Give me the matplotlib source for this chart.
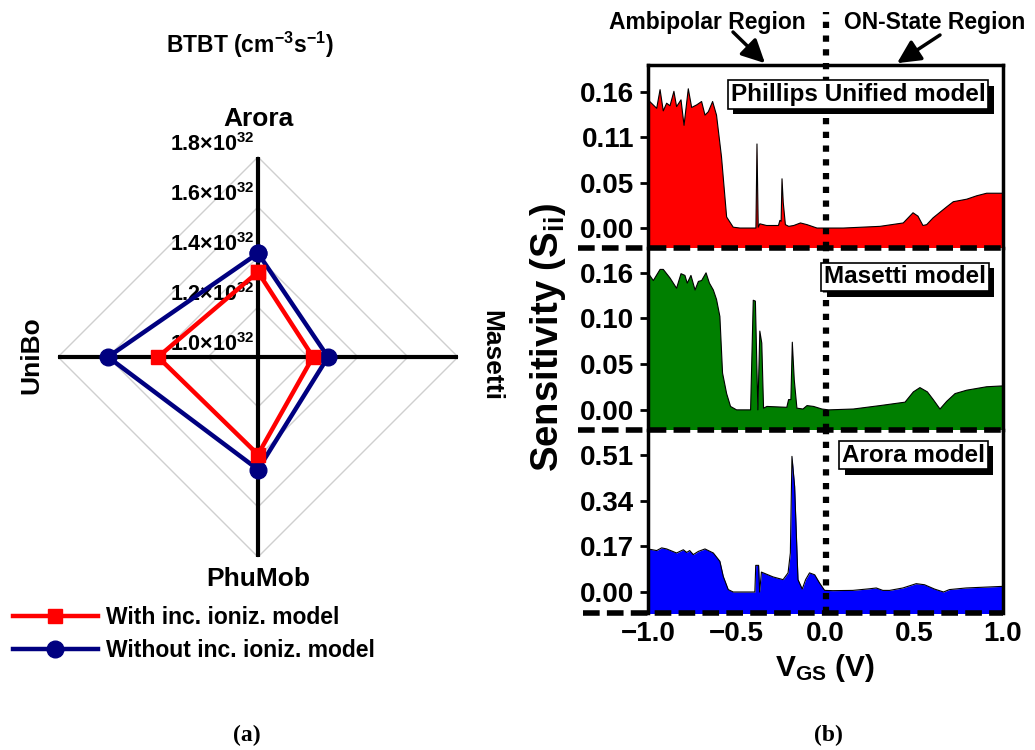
import numpy as np
import matplotlib
matplotlib.use("Agg")
import matplotlib.pyplot as plt
import matplotlib.patheffects as pe
import matplotlib.transforms as mtransforms

plt.rcParams['font.family'] = ['Liberation Sans', 'DejaVu Sans']
plt.rcParams['font.weight'] = 'bold'
plt.rcParams['mathtext.fontset'] = 'custom'
plt.rcParams['mathtext.rm'] = 'Liberation Sans:bold'
plt.rcParams['mathtext.bf'] = 'Liberation Sans:bold'
plt.rcParams['mathtext.it'] = 'Liberation Sans:bold'

# ---------------- data: radar (a) ----------------
radar_axes = ['Arora', 'Masetti', 'PhuMob', 'UniBo']
with_ii = [1.34e32, 1.22e32, 1.39e32, 1.40e32]
without_ii = [1.415e32, 1.28e32, 1.45e32, 1.60e32]
radar_ticks = [1.0e32, 1.2e32, 1.4e32, 1.6e32, 1.8e32]
radar_ticklabels = ['1.0×10$^{32}$', '1.2×10$^{32}$', '1.4×10$^{32}$',
                    '1.6×10$^{32}$', '1.8×10$^{32}$']

# ---------------- data: sensitivity (b) ----------------
x_pu = [-1.0, -0.951, -0.932, -0.914, -0.895, -0.876, -0.854, -0.839, -0.814, -0.797,
        -0.773, -0.754, -0.726, -0.698, -0.679, -0.660, -0.636, -0.614, -0.586, -0.557,
        -0.520, -0.482, -0.392, -0.386, -0.379, -0.370, -0.332, -0.300, -0.265, -0.257,
        -0.250, -0.245, -0.238, -0.226, -0.207, -0.179, -0.141, -0.104, -0.076, -0.048,
        0.100, 0.307, 0.438, 0.493, 0.521, 0.549, 0.570, 0.606, 0.683, 0.720,
        0.796, 0.852, 0.908, 1.0]
s_pu = [0.151, 0.141, 0.163, 0.138, 0.147, 0.144, 0.161, 0.143, 0.151, 0.121,
        0.164, 0.142, 0.145, 0.149, 0.133, 0.137, 0.149, 0.133, 0.084, 0.013,
        0.001, 0.0, 0.0, 0.099, 0.001, 0.005, 0.003, 0.003, 0.003, 0.009,
        0.008, 0.058, 0.030, 0.004, 0.002, 0.003, 0.006, 0.004, 0.002, 0.0,
        0.0, 0.002, 0.006, 0.018, 0.014, 0.003, 0.004, 0.012, 0.025, 0.031,
        0.034, 0.038, 0.041, 0.041]

x_ma = [-1.0, -0.970, -0.932, -0.914, -0.876, -0.839, -0.814, -0.792, -0.779, -0.758,
        -0.735, -0.716, -0.698, -0.673, -0.654, -0.632, -0.614, -0.595, -0.580, -0.557,
        -0.535, -0.501, -0.422, -0.407, -0.395, -0.381, -0.370, -0.359, -0.349, -0.330,
        -0.218, -0.208, -0.195, -0.187, -0.176, -0.161, -0.127, -0.104, -0.067, -0.020,
        0.018, 0.157, 0.307, 0.448, 0.495, 0.532, 0.574, 0.607, 0.645, 0.683,
        0.730, 0.796, 0.852, 0.908, 1.0]
s_ma = [0.160, 0.151, 0.164, 0.164, 0.154, 0.142, 0.159, 0.157, 0.148, 0.157,
        0.140, 0.150, 0.151, 0.160, 0.148, 0.140, 0.129, 0.109, 0.043, 0.019,
        0.004, 0.0, 0.0, 0.128, 0.127, 0.0, 0.092, 0.078, 0.002, 0.004,
        0.003, 0.012, 0.012, 0.079, 0.035, 0.002, 0.001, 0.005, 0.004, 0.001,
        0.0, 0.001, 0.005, 0.009, 0.021, 0.026, 0.021, 0.012, 0.001, 0.010,
        0.019, 0.023, 0.025, 0.027, 0.028]

x_ar = [-1.0, -0.951, -0.923, -0.895, -0.839, -0.801, -0.782, -0.765, -0.745, -0.716,
        -0.679, -0.632, -0.595, -0.576, -0.548, -0.520, -0.398, -0.393, -0.377, -0.371,
        -0.361, -0.295, -0.239, -0.211, -0.198, -0.189, -0.174, -0.155, -0.131, -0.112,
        -0.090, -0.061, -0.033, -0.005, 0.041, 0.154, 0.248, 0.286, 0.323, 0.361,
        0.436, 0.511, 0.558, 0.614, 0.665, 0.698, 0.792, 1.0]
s_ar = [0.160, 0.154, 0.164, 0.160, 0.145, 0.157, 0.147, 0.154, 0.139, 0.151,
        0.160, 0.145, 0.114, 0.058, 0.009, 0.0, 0.0, 0.099, 0.099, 0.0,
        0.074, 0.056, 0.046, 0.071, 0.145, 0.504, 0.393, 0.046, 0.011, 0.046,
        0.071, 0.064, 0.033, 0.006, 0.005, 0.006, 0.012, 0.015, 0.006, 0.006,
        0.015, 0.031, 0.027, 0.011, 0.0, 0.009, 0.015, 0.021]

panel_names = ['Phillips Unified model', 'Masetti model', 'Arora model']
panel_colors = ['#FF0000', '#007F00', '#0000FF']
panel_ylims = [(-0.0235, 0.192), (-0.0235, 0.189), (-0.078, 0.602)]
panel_yticks = [[0.0, 0.0533, 0.1067, 0.16], [0.0, 0.0533, 0.1067, 0.16], [0.0, 0.17, 0.34, 0.51]]
panel_yticklabels = [['0.00', '0.05', '0.11', '0.16'], ['0.00', '0.05', '0.10', '0.16'],
                     ['0.00', '0.17', '0.34', '0.51']]
xticks = [-1.0, -0.5, 0.0, 0.5, 1.0]

W, H = 1035, 750
fig = plt.figure(figsize=(W / 100, H / 100), dpi=100)

# ================= (a) radar =================
cx, cy, R = 258, 357, 200
axr = fig.add_axes([(cx - R) / W, (H - cy - R) / H, 2 * R / W, 2 * R / H], projection='polar')
axr.set_theta_offset(np.pi / 2)
axr.set_theta_direction(-1)
axr.set_ylim(radar_ticks[0], radar_ticks[-1])
axr.set_axis_off()
theta = np.arange(len(radar_axes)) * 2 * np.pi / len(radar_axes)
theta_c = np.append(theta, theta[0])

for rt in radar_ticks[1:]:
    axr.plot(theta_c, [rt] * len(theta_c), color='#cfcfcf', lw=1.0, zorder=1, clip_on=False)
for t in theta:
    axr.plot([t, t], [radar_ticks[0], radar_ticks[-1]], color='black', lw=3.0, zorder=2,
             clip_on=False, solid_capstyle='butt')

lab_tr = mtransforms.offset_copy(axr.transData, fig=fig, x=-3, y=1, units='dots')
for rt, lab in zip(radar_ticks, radar_ticklabels):
    axr.text(0, rt, lab, transform=lab_tr, ha='right', va='bottom', fontsize=15.5,
             fontweight='bold', zorder=3)

l1, = axr.plot(theta_c, np.append(with_ii, with_ii[0]), color='#FF0000', lw=3.2,
               marker='s', markersize=10, zorder=5, clip_on=False)
l2, = axr.plot(theta_c, np.append(without_ii, without_ii[0]), color='#000080', lw=3.2,
               marker='o', markersize=12, zorder=4, clip_on=False)

fig.text(258 / W, 1 - 119 / H, radar_axes[0], ha='center', va='center', fontsize=19, fontweight='bold')
fig.text(491 / W, 1 - 355 / H, radar_axes[1], ha='center', va='center', fontsize=19,
         fontweight='bold', rotation=-90)
fig.text(258 / W, 1 - 579 / H, radar_axes[2], ha='center', va='center', fontsize=19, fontweight='bold')
fig.text(31 / W, 1 - 355 / H, radar_axes[3], ha='center', va='center', fontsize=19,
         fontweight='bold', rotation=90)
fig.text(250 / W, 1 - 45 / H, 'BTBT (cm$^{-3}$s$^{-1}$)', ha='center', va='center', fontsize=16.5,
         fontweight='bold')

fig.legend(handles=[l1, l2], labels=['With inc. ioniz. model', 'Without inc. ioniz. model'],
           loc='center left', bbox_to_anchor=(13 / W, 1 - 634 / H), frameon=False,
           fontsize=16.5, handlelength=3.7, handletextpad=0.35, labelspacing=0.4,
           borderpad=0, borderaxespad=0)

# ================= (b) sensitivity =================
left, right = 648, 1003
tops = [65, 248, 430]
bottoms = [248, 430, 613]
xs = [x_pu, x_ma, x_ar]
ss = [s_pu, s_ma, s_ar]
axes = []
for i in range(3):
    ax = fig.add_axes([left / W, (H - bottoms[i]) / H, (right - left) / W,
                       (bottoms[i] - tops[i]) / H])
    axes.append(ax)
    ylo, yhi = panel_ylims[i]
    ax.set_xlim(-1.0, 1.0)
    ax.set_ylim(ylo, yhi)
    ax.fill_between(xs[i], ss[i], ylo - 1, color=panel_colors[i], lw=0, zorder=2)
    ax.plot(xs[i], ss[i], color='black', lw=0.8, zorder=3)
    ax.set_yticks(panel_yticks[i])
    ax.set_yticklabels(panel_yticklabels[i])
    ax.set_xticks(xticks)
    ax.tick_params(axis='y', direction='out', length=6, width=2, labelsize=20, pad=4)
    ax.tick_params(axis='x', length=0, labelsize=20, pad=6)
    for sp in ['left', 'right', 'top']:
        ax.spines[sp].set_linewidth(2.5)
    ax.spines['bottom'].set_visible(False)
    if i > 0:
        ax.spines['top'].set_visible(False)
    if i < 2:
        ax.tick_params(axis='x', labelbottom=False)
    ax.patch.set_alpha(0)
    # dashed boundary extending to the left
    x0 = -0.197 if i < 2 else -0.183
    ax.plot([x0, 1.0], [0, 0], transform=ax.transAxes, color='black', lw=4,
            linestyle=(0, (3, 1.3)), clip_on=False, zorder=6)
    # vertical dotted line at V_GS = 0
    ytop = 1.29 if i == 0 else 1.0
    ax.plot([0, 0], [0, ytop], transform=ax.get_xaxis_transform(), color='black', lw=4.5,
            linestyle=(0, (1, 1.2)), clip_on=False, zorder=4)

for ax, name, cxp, cyp in zip(axes, panel_names, [858, 905, 913.5], [94.5, 277, 455]):
    t = fig.text(cxp / W, 1 - cyp / H, name, ha='center', va='center', fontsize=17.5,
                 fontweight='bold', zorder=10,
                 bbox=dict(boxstyle='square,pad=0.12', fc='white', ec='black', lw=1.2))
    t.get_bbox_patch().set_path_effects([
        pe.SimplePatchShadow(offset=(4, -4), shadow_rgbFace='black', alpha=1.0),
        pe.Normal()])

fig.text(825 / W, 1 - 668 / H, 'V$_{GS}$ (V)', ha='center', va='center', fontsize=21.5,
         fontweight='bold')
fig.text(548 / W, 1 - 337 / H, 'Sensitivity (S$_{ii}$)', ha='center', va='center',
         fontsize=27.5, fontweight='bold', rotation=90)

# region annotations
fig.text(707 / W, 1 - 22 / H, 'Ambipolar Region', ha='center', va='center', fontsize=16.5,
         fontweight='bold')
fig.text(935 / W, 1 - 22 / H, 'ON-State Region', ha='center', va='center', fontsize=16.5,
         fontweight='bold')
for (xt, yt), xd in zip([(733, 32), (940, 35)], [-0.341, 0.403]):
    axes[0].annotate('', xy=(xd, 1.01), xycoords=('data', 'axes fraction'),
                     xytext=(xt, H - yt), textcoords='figure pixels',
                     arrowprops=dict(arrowstyle='-|>,head_length=0.7,head_width=0.35',
                                     color='black', lw=2.5, shrinkA=0, shrinkB=0,
                                     mutation_scale=20))

fig.text(247 / W, 1 - 735 / H, '(a)', ha='center', va='center', fontsize=17,
         fontweight='bold', family='Liberation Serif')
fig.text(828 / W, 1 - 735 / H, '(b)', ha='center', va='center', fontsize=17,
         fontweight='bold', family='Liberation Serif')

fig.savefig('out.png', dpi=100)
